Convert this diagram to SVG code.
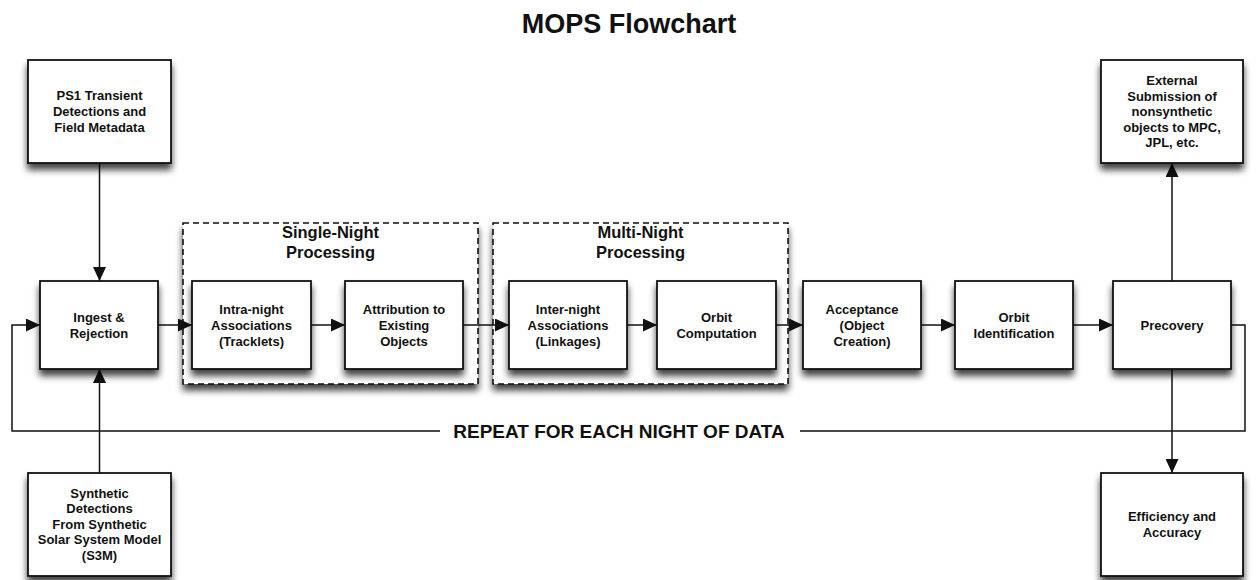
<svg xmlns="http://www.w3.org/2000/svg" width="1257" height="580" viewBox="0 0 1257 580">
<style>
text{font-family:"Liberation Sans",Arial,Helvetica,sans-serif;font-weight:bold;fill:#111;text-anchor:middle}
.t{font-size:13px}
.g{font-size:16.5px}
.box{fill:#fff;stroke:#111;stroke-width:1.8}
.dash{fill:#fff;stroke:#111;stroke-width:1.6;stroke-dasharray:6 4}
.c{fill:none;stroke:#111;stroke-width:1.5}
</style>
<defs>
<filter id="sh" x="-20%" y="-20%" width="140%" height="160%" color-interpolation-filters="sRGB">
<feGaussianBlur in="SourceAlpha" stdDeviation="3.5" result="b"/>
<feOffset in="b" dx="0" dy="6" result="o"/>
<feComponentTransfer in="o" result="s"><feFuncA type="linear" slope="0.75"/></feComponentTransfer>
<feMerge><feMergeNode in="s"/><feMergeNode in="SourceGraphic"/></feMerge>
</filter>
<marker id="ah" markerUnits="userSpaceOnUse" markerWidth="15" markerHeight="13" refX="14" refY="6.5" orient="auto">
<path d="M0,0 L14,6.5 L0,13 z" fill="#111"/>
</marker>
</defs>
<rect width="1257" height="580" fill="#fff"/>
<text x="629" y="33" style="font-size:27px">MOPS Flowchart</text>

<g id="single-night">
<rect class="dash" x="183" y="223" width="295" height="161" filter="url(#sh)"/>
<text class="g" x="330.5" y="238">Single-Night</text>
<text class="g" x="330.5" y="258">Processing</text>
</g>
<g id="multi-night">
<rect class="dash" x="493" y="223" width="295" height="161" filter="url(#sh)"/>
<text class="g" x="640.5" y="238">Multi-Night</text>
<text class="g" x="640.5" y="258">Processing</text>
</g>

<g id="connectors">
<line class="c" x1="99.5" y1="163" x2="99.5" y2="281" marker-end="url(#ah)"/>
<line class="c" x1="99.5" y1="473" x2="99.5" y2="369" marker-end="url(#ah)"/>
<line class="c" x1="158" y1="325" x2="192" y2="325" marker-end="url(#ah)"/>
<line class="c" x1="311" y1="325" x2="345" y2="325" marker-end="url(#ah)"/>
<line class="c" x1="463" y1="325" x2="509" y2="325" marker-end="url(#ah)"/>
<line class="c" x1="627" y1="325" x2="657" y2="325" marker-end="url(#ah)"/>
<line class="c" x1="776" y1="325" x2="803" y2="325" marker-end="url(#ah)"/>
<line class="c" x1="921" y1="325" x2="955" y2="325" marker-end="url(#ah)"/>
<line class="c" x1="1073" y1="325" x2="1113" y2="325" marker-end="url(#ah)"/>
<line class="c" x1="1172" y1="281" x2="1172" y2="163" marker-end="url(#ah)"/>
<line class="c" x1="1172" y1="369" x2="1172" y2="473" marker-end="url(#ah)"/>
<polyline class="c" points="1231,325 1245,325 1245,431 800,431"/>
<polyline class="c" points="440,431 12,431 12,325 40,325" marker-end="url(#ah)"/>
<text x="619" y="438" style="font-size:19px">REPEAT FOR EACH NIGHT OF DATA</text>
</g>

<g id="ps1">
<rect class="box" x="28" y="60" width="143" height="103" filter="url(#sh)"/>
<text class="t" x="99.5" y="100">PS1 Transient</text>
<text class="t" x="99.5" y="116">Detections and</text>
<text class="t" x="99.5" y="132">Field Metadata</text>
</g>
<g id="ingest">
<rect class="box" x="40" y="281" width="118" height="88" filter="url(#sh)"/>
<text class="t" x="99" y="322">Ingest &amp;</text>
<text class="t" x="99" y="338">Rejection</text>
</g>
<g id="synthetic">
<rect class="box" x="28" y="473" width="143" height="103" filter="url(#sh)"/>
<text class="t" x="99.5" y="497.5">Synthetic</text>
<text class="t" x="99.5" y="513">Detections</text>
<text class="t" x="99.5" y="528.5">From Synthetic</text>
<text class="t" x="99.5" y="544">Solar System Model</text>
<text class="t" x="99.5" y="559.5">(S3M)</text>
</g>
<g id="intra">
<rect class="box" x="192" y="281" width="119" height="88" filter="url(#sh)"/>
<text class="t" x="251.5" y="314">Intra-night</text>
<text class="t" x="251.5" y="330">Associations</text>
<text class="t" x="251.5" y="346">(Tracklets)</text>
</g>
<g id="attribution">
<rect class="box" x="345" y="281" width="118" height="88" filter="url(#sh)"/>
<text class="t" x="404" y="314">Attribution to</text>
<text class="t" x="404" y="330">Existing</text>
<text class="t" x="404" y="346">Objects</text>
</g>
<g id="inter">
<rect class="box" x="509" y="281" width="118" height="88" filter="url(#sh)"/>
<text class="t" x="568" y="314">Inter-night</text>
<text class="t" x="568" y="330">Associations</text>
<text class="t" x="568" y="346">(Linkages)</text>
</g>
<g id="orbit-computation">
<rect class="box" x="657" y="281" width="119" height="88" filter="url(#sh)"/>
<text class="t" x="716.5" y="322">Orbit</text>
<text class="t" x="716.5" y="338">Computation</text>
</g>
<g id="acceptance">
<rect class="box" x="803" y="281" width="118" height="88" filter="url(#sh)"/>
<text class="t" x="862" y="314">Acceptance</text>
<text class="t" x="862" y="330">(Object</text>
<text class="t" x="862" y="346">Creation)</text>
</g>
<g id="orbit-identification">
<rect class="box" x="955" y="281" width="118" height="88" filter="url(#sh)"/>
<text class="t" x="1014" y="322">Orbit</text>
<text class="t" x="1014" y="338">Identification</text>
</g>
<g id="precovery">
<rect class="box" x="1113" y="281" width="118" height="88" filter="url(#sh)"/>
<text class="t" x="1172" y="330">Precovery</text>
</g>
<g id="external">
<rect class="box" x="1101" y="60" width="142" height="103" filter="url(#sh)"/>
<text class="t" x="1172" y="85">External</text>
<text class="t" x="1172" y="100.5">Submission of</text>
<text class="t" x="1172" y="116">nonsynthetic</text>
<text class="t" x="1172" y="131.5">objects to MPC,</text>
<text class="t" x="1172" y="147">JPL, etc.</text>
</g>
<g id="efficiency">
<rect class="box" x="1101" y="473" width="142" height="103" filter="url(#sh)"/>
<text class="t" x="1172" y="521">Efficiency and</text>
<text class="t" x="1172" y="537">Accuracy</text>
</g>
</svg>
